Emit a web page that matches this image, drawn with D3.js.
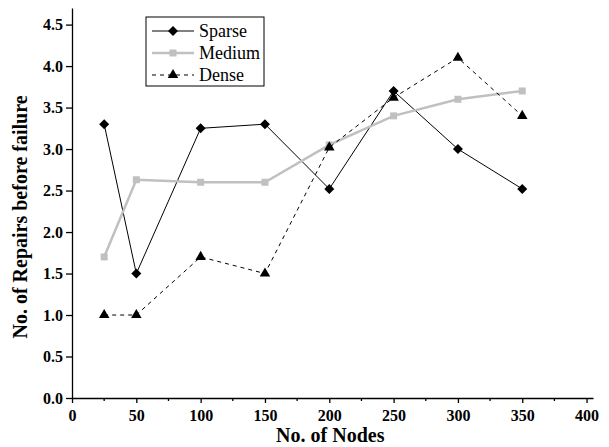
<!DOCTYPE html>
<html>
<head>
<meta charset="utf-8">
<script src="https://cdn.jsdelivr.net/npm/d3@7"></script>
<style>
  body { margin: 0; background: #fff; }
  svg text { font-family: "Liberation Serif", "DejaVu Serif", serif; fill: #000; }
  .eje text { font-weight: bold; font-size: 16px; }
</style>
</head>
<body>
<div id="graf"></div>
<script>
// datos
nodos = [25, 50, 100, 150, 200, 250, 300, 350]
sparse = [3.3, 1.5, 3.25, 3.3, 2.52, 3.7, 3.0, 2.52]
medium = [1.7, 2.63, 2.6, 2.6, 3.05, 3.4, 3.6, 3.7]
dense  = [1.0, 1.0, 1.7, 1.5, 3.02, 3.62, 4.1, 3.4]
xTicks = [0, 50, 100, 150, 200, 250, 300, 350, 400]
yTicks = [0, 0.5, 1, 1.5, 2, 2.5, 3, 3.5, 4, 4.5]

fuente = '"Liberation Serif", "DejaVu Serif", serif'
ancho_total = 609
alto_total = 447
margins = { top: 8, left: 72, right: 16, bottom: 49 }
ancho = ancho_total - margins.left - margins.right
alto = alto_total - margins.top - margins.bottom

svg = d3.select('#graf').append('svg')
        .attr('width', ancho_total)
        .attr('height', alto_total)
        .attr('font-family', fuente)

g = svg.append('g')
       .attr('transform', `translate(${ margins.left }, ${ margins.top })`)

x = d3.scaleLinear().domain([0, 405]).range([0, ancho])
y = d3.scaleLinear().domain([0, 4.7]).range([alto, 0])

// ejes
xAxisGroup = g.append('g').attr('class', 'eje')
              .attr('transform', `translate(0, ${ alto })`)
              .call(d3.axisBottom(x).tickValues(xTicks).tickSize(5).tickSizeOuter(0).tickPadding(7))
xAxisGroup.selectAll('.minor')
  .data(d3.range(25, 400, 50))
  .enter().append('line')
    .attr('x1', d => x(d)).attr('x2', d => x(d))
    .attr('y1', 0).attr('y2', 3)
    .attr('stroke', '#000')

yAxisGroup = g.append('g').attr('class', 'eje')
              .call(d3.axisLeft(y).tickValues(yTicks).tickFormat(d3.format('.1f')).tickSize(6).tickSizeOuter(0).tickPadding(3))

g.selectAll('.eje').attr('font-family', fuente).attr('font-size', 16).attr('font-weight', 'bold')
g.selectAll('.eje text').style('font-family', fuente)
g.selectAll('.eje path, .eje line').attr('stroke', '#000').attr('stroke-width', 1.3)

svg.append('text')
   .attr('x', margins.left + x(200) + 1)
   .attr('y', 442)
   .attr('text-anchor', 'middle')
   .style('font-family', fuente)
   .style('font-weight', 'bold').style('font-size', '20px')
   .text('No. of Nodes')

svg.append('text')
   .attr('transform', `translate(27, ${ margins.top + alto / 2 + 14 }) rotate(-90)`)
   .attr('text-anchor', 'middle')
   .style('font-family', fuente)
   .style('font-weight', 'bold').style('font-size', '20px')
   .text('No. of Repairs before failure')

// series
series = [
  { nombre: 'Sparse', valores: sparse, color: '#000', ancho: 1, dash: null, marca: d3.symbolSquare, tam: 50, giro: 45 },
  { nombre: 'Medium', valores: medium, color: '#c0c0c0', ancho: 2.5, dash: null, marca: d3.symbolSquare, tam: 49, giro: 0 },
  { nombre: 'Dense', valores: dense, color: '#000', ancho: 1, dash: '4,4', marca: d3.symbolTriangle, tam: 48, giro: 0 }
]

linea = d3.line().x(d => x(d[0])).y(d => y(d[1]))

series.forEach(s => {
  puntos = nodos.map((n, i) => [n, s.valores[i]])
  g.append('path')
   .datum(puntos)
   .attr('d', linea)
   .attr('fill', 'none')
   .attr('stroke', s.color)
   .attr('stroke-width', s.ancho)
   .attr('stroke-dasharray', s.dash)
  g.selectAll(null)
   .data(puntos)
   .enter().append('path')
     .attr('d', d3.symbol().type(s.marca).size(s.tam))
     .attr('transform', d => `translate(${ x(d[0]) }, ${ y(d[1]) }) rotate(${ s.giro })`)
     .attr('fill', s.color)
})

// leyenda
ley = svg.append('g').attr('transform', 'translate(146, 17)')
ley.append('rect')
   .attr('width', 118).attr('height', 69)
   .attr('fill', '#fff').attr('stroke', '#000').attr('stroke-width', 1)

series.forEach((s, i) => {
  cy = 14 + i * 22
  ley.append('line')
     .attr('x1', 6).attr('x2', 48).attr('y1', cy).attr('y2', cy)
     .attr('stroke', s.color).attr('stroke-width', s.ancho)
     .attr('stroke-dasharray', s.dash)
  ley.append('path')
     .attr('d', d3.symbol().type(s.marca).size(s.tam))
     .attr('transform', `translate(27, ${ cy }) rotate(${ s.giro })`)
     .attr('fill', s.color)
  ley.append('text')
     .attr('x', 53).attr('y', cy + 6)
     .style('font-family', fuente)
     .style('font-size', '18px')
     .text(s.nombre)
})
</script>
</body>
</html>
